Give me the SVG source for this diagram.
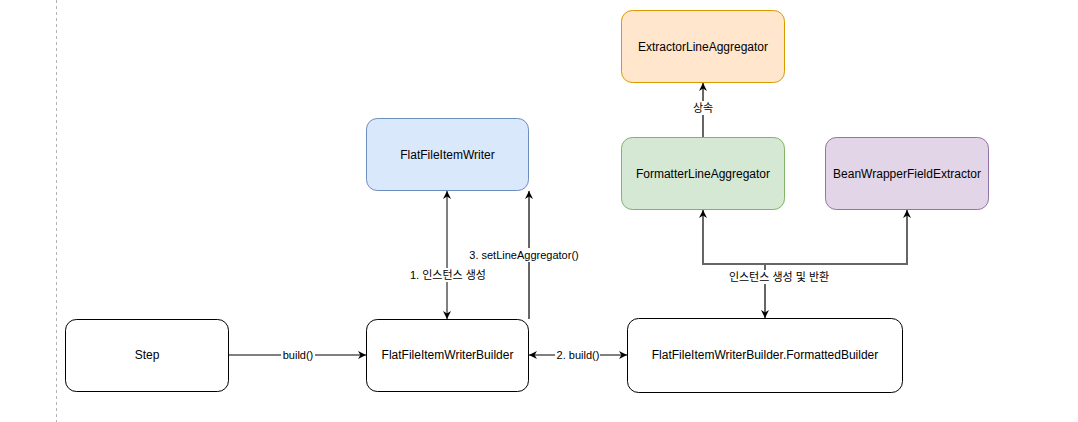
<svg xmlns="http://www.w3.org/2000/svg" width="1078" height="422" viewBox="0 0 1078 422">
<style>
  .node { stroke-width: 1; }
  .plain { fill: #ffffff; stroke: #000000; }
  .blue { fill: #dae8fc; stroke: #6c8ebf; }
  .orange { fill: #ffe6cc; stroke: #d79b00; }
  .green { fill: #d5e8d4; stroke: #82b366; }
  .purple { fill: #e1d5e7; stroke: #9673a6; }
  .ntext { font-family: "Liberation Sans", "Noto Sans CJK KR", sans-serif; font-size: 12px; fill: #000; text-anchor: middle; }
  .ltext { font-family: "Liberation Sans", "Noto Sans CJK KR", sans-serif; font-size: 11px; fill: #000; text-anchor: middle; }
  .edge { fill: none; stroke: #000; stroke-width: 1; }
  .gedge { fill: none; stroke: #666666; stroke-width: 2; }
  .lbg { fill: #ffffff; }
</style>
<defs>
  <marker id="arrB" viewBox="0 0 10 10" refX="10" refY="5" markerWidth="8" markerHeight="8" markerUnits="userSpaceOnUse" orient="auto-start-reverse">
    <path d="M0,0 L10,5 L0,10 L3,5 z" fill="#000"/>
  </marker>
  <marker id="arrG" viewBox="0 0 10 10" refX="10" refY="5" markerWidth="8" markerHeight="8" markerUnits="userSpaceOnUse" orient="auto-start-reverse">
    <path d="M0,0 L10,5 L0,10 L3,5 z" fill="#000"/>
  </marker>
</defs>

<line x1="56.5" y1="0" x2="56.5" y2="422" stroke="#b3b3b3" stroke-width="1" stroke-dasharray="3,3"/>

<g id="connectors">
  <g id="e-step-builder">
    <line class="edge" x1="229" y1="355" x2="366" y2="355" marker-end="url(#arrB)"/>
    <rect class="lbg" x="281" y="348" width="34" height="14"/>
    <text class="ltext" x="298" y="359">build()</text>
  </g>
  <g id="e-builder-writer">
    <line class="edge" x1="447" y1="191" x2="447" y2="319" marker-start="url(#arrB)" marker-end="url(#arrB)"/>
    <rect class="lbg" x="411" y="268" width="74" height="14"/>
    <text class="ltext" x="448" y="279">1. 인스턴스 생성</text>
  </g>
  <g id="e-setline">
    <line class="gedge" x1="529" y1="319" x2="529" y2="191" marker-end="url(#arrG)"/>
    <rect class="lbg" x="472" y="248" width="104" height="14"/>
    <text class="ltext" x="524" y="259">3. setLineAggregator()</text>
  </g>
  <g id="e-build2">
    <line class="edge" x1="529" y1="355" x2="627" y2="355" marker-start="url(#arrB)" marker-end="url(#arrB)"/>
    <rect class="lbg" x="555" y="348" width="45" height="14"/>
    <text class="ltext" x="578" y="359">2. build()</text>
  </g>
  <g id="e-inherit">
    <line class="gedge" x1="703" y1="137" x2="703" y2="83" marker-end="url(#arrG)"/>
    <rect class="lbg" x="692" y="101" width="22" height="14"/>
    <text class="ltext" x="703" y="112">상속</text>
  </g>
  <g id="e-create">
    <polyline class="gedge" points="765,318 765,264 703,264 703,210" marker-start="url(#arrG)" marker-end="url(#arrG)"/>
    <polyline class="gedge" points="765,264 907,264 907,210" marker-end="url(#arrG)"/>
    <rect class="lbg" x="730" y="270" width="98" height="14"/>
    <text class="ltext" x="779" y="281">인스턴스 생성 및 반환</text>
  </g>
</g>

<g id="node-step">
  <rect class="node plain" x="65.5" y="319.5" width="163" height="72" rx="10.8"/>
  <text class="ntext" x="147" y="359">Step</text>
</g>
<g id="node-builder">
  <rect class="node plain" x="366.5" y="319.5" width="162" height="72" rx="10.8"/>
  <text class="ntext" x="447.5" y="359">FlatFileItemWriterBuilder</text>
</g>
<g id="node-formatted">
  <rect class="node plain" x="627.5" y="318.5" width="275" height="74" rx="11"/>
  <text class="ntext" x="765" y="359">FlatFileItemWriterBuilder.FormattedBuilder</text>
</g>
<g id="node-writer">
  <rect class="node blue" x="366.5" y="118.5" width="162" height="72" rx="10.8"/>
  <text class="ntext" x="447.5" y="159">FlatFileItemWriter</text>
</g>
<g id="node-extractor">
  <rect class="node orange" x="621.5" y="10.5" width="163" height="72" rx="10.8"/>
  <text class="ntext" x="703" y="51">ExtractorLineAggregator</text>
</g>
<g id="node-formatter">
  <rect class="node green" x="621.5" y="137.5" width="163" height="72" rx="10.8"/>
  <text class="ntext" x="703" y="178">FormatterLineAggregator</text>
</g>
<g id="node-bean">
  <rect class="node purple" x="825.5" y="137.5" width="163" height="72" rx="10.8"/>
  <text class="ntext" x="907" y="178">BeanWrapperFieldExtractor</text>
</g>
</svg>
